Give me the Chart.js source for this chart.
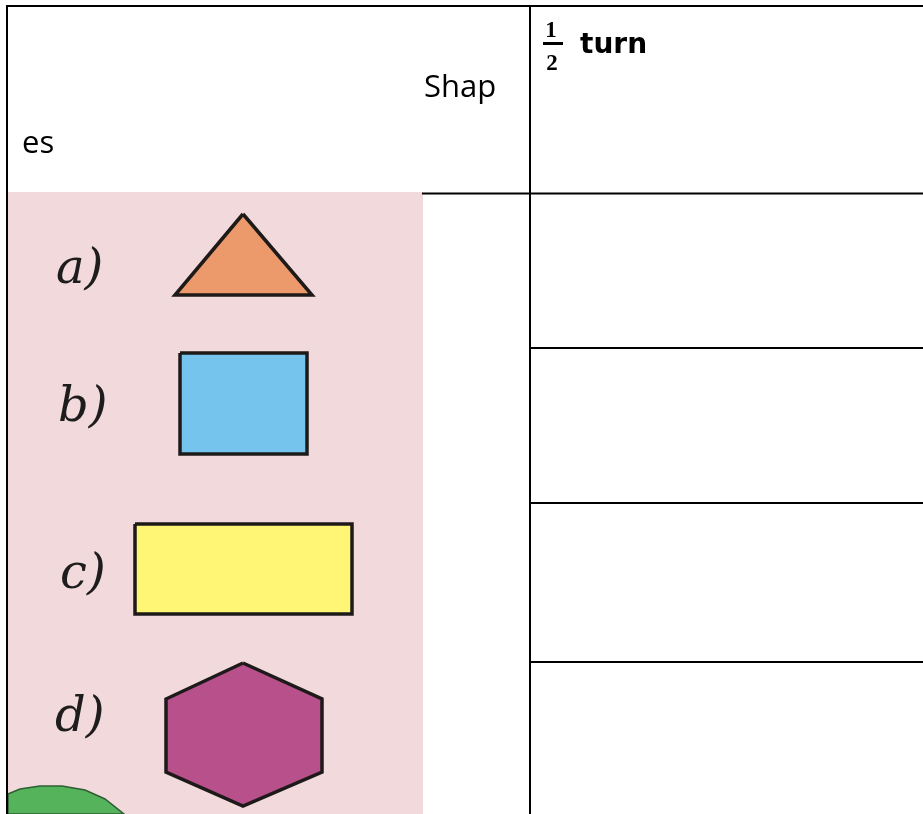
<!DOCTYPE html>
<html>
<head>
<meta charset="utf-8">
<script src="https://cdn.jsdelivr.net/npm/chart.js"></script>
<style>
  html, body { margin: 0; padding: 0; background: #ffffff; }
  #wrap { width: 923px; height: 814px; }
</style>
</head>
<body>
<div id="wrap"><canvas id="c" width="923" height="814"></canvas></div>
<script>
// ---- data (page units: the table is laid out on a 923 x 814 grid) ----
const headerLines   = ['Shap', 'es'];          // "Shapes", wrapped in the narrow header cell
const headerLineX   = [424, 22];
const headerLineY   = [97, 153];
const turnNumerator = '1';
const turnDenominator = '2';
const turnWord      = 'turn';

const rowLabels  = ['a)', 'b)', 'c)', 'd)'];
const rowLabelX  = [56, 58, 60, 55];
const rowLabelY  = [283, 421, 588, 731];

const tableColumnX = [7, 530];                 // vertical rules
const tableTopY    = 6;
const headerRuleY  = 193.5;
const bodyRowY     = [348, 503, 662];          // rules in the "1/2 turn" column
const tableRight   = 923;
const tableBottom  = 814;
const panelRight   = 423;                      // right edge of the picture panel

const panel     = [[8, 192], [423, 192], [423, 814], [8, 814]];
const triangle  = [[243, 214], [312, 295], [175, 295]];
const square    = [[180, 353], [307, 353], [307, 454], [180, 454]];
const rectangle = [[135, 524], [352, 524], [352, 614], [135, 614]];
const hexagon   = [[243, 663], [322, 699], [322, 772], [243, 806], [166, 772], [166, 699]];
const leaf      = [[8, 794], [20, 789], [40, 786], [62, 786], [85, 790], [105, 799], [124, 814], [8, 814]];

// ---- helpers ----
const pts = a => a.map(([x, y]) => ({ x, y }));
const closed = a => pts(a.concat([a[0]]));

function shapeSet(poly, fillColor, borderColor, width, order) {
  return {
    data: closed(poly), showLine: true, fill: 'shape', tension: 0,
    backgroundColor: fillColor, borderColor: borderColor, borderWidth: width,
    borderJoinStyle: 'miter', pointRadius: 0, order: order
  };
}
function ruleSet(a, b, order) {
  return {
    data: pts([a, b]), showLine: true, fill: false, tension: 0,
    borderColor: '#000000', borderWidth: 2, pointRadius: 0, order: order,
    borderCapStyle: 'square'
  };
}

const datasets = [];
datasets.push(shapeSet(panel, '#f1d9dc', 'rgba(0,0,0,0)', 0, 20));
datasets.push(shapeSet(leaf, '#55b45b', '#2f5e33', 1.5, 15));
datasets.push(shapeSet(triangle, '#ec9a6c', '#1e1a1a', 3.5, 10));
datasets.push(shapeSet(square, '#74c4ee', '#1e1a1a', 3.5, 10));
datasets.push(shapeSet(rectangle, '#fff676', '#1e1a1a', 3.5, 10));
datasets.push(shapeSet(hexagon, '#b8508b', '#1e1a1a', 3.5, 10));
// table rules
datasets.push(ruleSet([tableColumnX[0], tableTopY], [tableRight, tableTopY], 1));
datasets.push(ruleSet([panelRight, headerRuleY], [tableRight, headerRuleY], 1));
bodyRowY.forEach(y => datasets.push(ruleSet([tableColumnX[1], y], [tableRight, y], 1)));
tableColumnX.forEach(x => datasets.push(ruleSet([x, tableTopY], [x, tableBottom], 1)));

const textPlugin = {
  id: 'tableText',
  afterDatasetsDraw(chart) {
    const { ctx, scales: { x, y } } = chart;
    ctx.save();
    ctx.fillStyle = '#000000';
    ctx.textBaseline = 'alphabetic';
    // header "Shapes"
    ctx.font = '31px "Open Sans"';
    ctx.textAlign = 'left';
    headerLines.forEach((t, i) => ctx.fillText(t, x.getPixelForValue(headerLineX[i]), y.getPixelForValue(headerLineY[i])));
    // header "1/2 turn"
    ctx.font = 'bold 23px "Liberation Serif"';
    ctx.textAlign = 'center';
    ctx.fillText(turnNumerator, x.getPixelForValue(551), y.getPixelForValue(37));
    ctx.fillText(turnDenominator, x.getPixelForValue(552), y.getPixelForValue(70));
    ctx.fillRect(x.getPixelForValue(543), y.getPixelForValue(42), x.getPixelForValue(563) - x.getPixelForValue(543), 3);
    ctx.textAlign = 'left';
    ctx.font = 'bold 28px "DejaVu Sans"';
    ctx.fillText(turnWord, x.getPixelForValue(580), y.getPixelForValue(53));
    // row labels
    ctx.fillStyle = '#1e1c1c';
    ctx.font = 'italic 48px "DejaVu Serif"';
    rowLabels.forEach((t, i) => ctx.fillText(t, x.getPixelForValue(rowLabelX[i]), y.getPixelForValue(rowLabelY[i])));
    ctx.restore();
  }
};

new Chart(document.getElementById('c'), {
  type: 'scatter',
  data: { datasets },
  options: {
    responsive: false,
    animation: false,
    events: [],
    layout: { padding: 0 },
    plugins: { legend: { display: false }, tooltip: { enabled: false }, title: { display: false } },
    scales: {
      x: { type: 'linear', min: 0, max: 923, display: false },
      y: { type: 'linear', min: 0, max: 814, reverse: true, display: false }
    }
  },
  plugins: [textPlugin]
});
</script>
</body>
</html>
